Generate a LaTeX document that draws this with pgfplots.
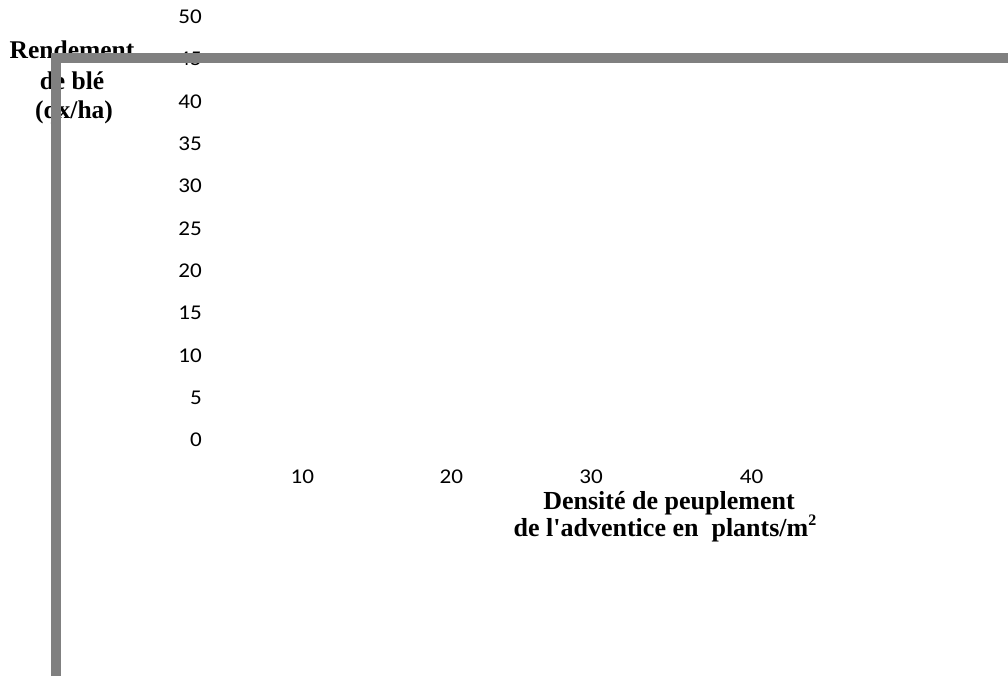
\documentclass[border=0pt]{standalone}
\usepackage{fontspec}
\setmainfont{Liberation Serif}
\newfontfamily\tickfont{Carlito}[FakeStretch=1.1]
\usepackage{pgfplots}
\pgfplotsset{compat=1.18}
\definecolor{bargray}{RGB}{128,128,128}

\begin{document}
\begin{tikzpicture}[x=1pt,y=1pt]
\useasboundingbox (0,0) rectangle (1008,675);
% empty chart: only the value axes are labelled
\begin{axis}[%
scale only axis,
width=798pt,
height=423pt,
at={(202pt,235pt)},
anchor=south west,
xmin=3.34,
xmax=57.0,
ymin=0,
ymax=50,
xtick={10.09,20.11,29.50,40.29},
xticklabels={10,20,30,40},
ytick={0,5,...,50},
axis line style={draw=none},
major tick length=0pt,
/pgf/number format/assume math mode=true,
tick label style={font=\tickfont\fontsize{21}{25}\selectfont},
xticklabel style={anchor=center,yshift=-37pt},
yticklabel style={anchor=east,inner sep=0pt},
]
\end{axis}

% axis titles
\begin{scope}[font=\bfseries\fontsize{25.5}{29}\selectfont]
\node[anchor=base] at (72,616) {Rendement};
\node[anchor=base] at (72,585) {de blé};
\node[anchor=base] at (74,556) {(qx/ha)};
\end{scope}
\begin{scope}[font=\bfseries\fontsize{26}{30}\selectfont]
\node[anchor=base] at (669,166) {Densité de peuplement};
\node[anchor=base] at (665,139) {de l\textquotesingle adventice en\ \ plants/m\raisebox{0.42em}{\fontsize{16}{16}\selectfont 2}};
\end{scope}

% thick grey frame drawn over the labels
\draw[bargray,line width=10.5pt,line join=miter] (56,-10) -- (56,617) -- (1020,617);
\end{tikzpicture}
\end{document}
